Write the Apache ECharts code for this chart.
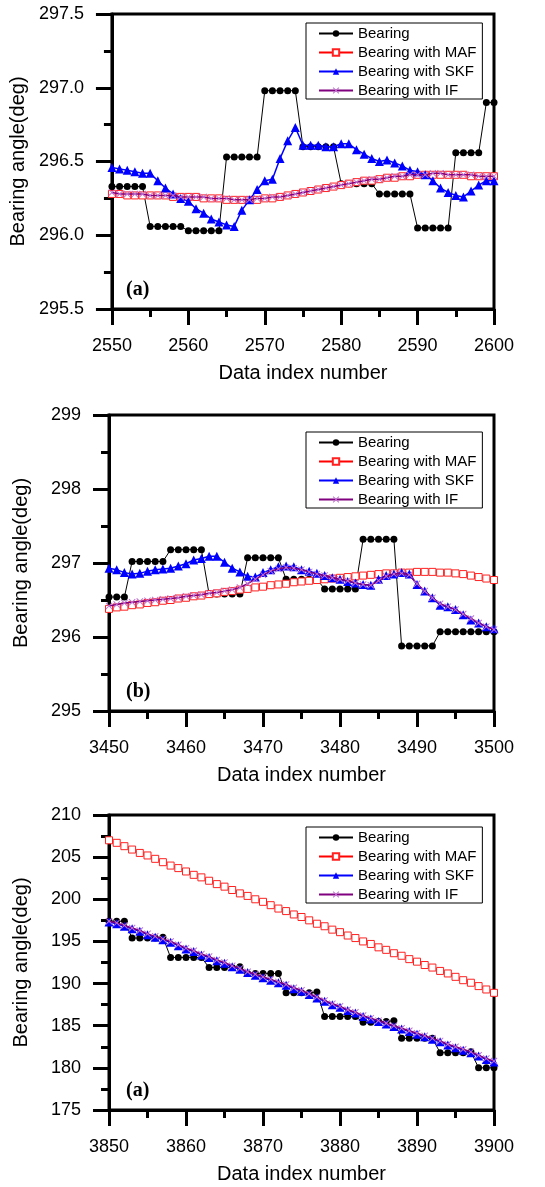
<!DOCTYPE html>
<html lang="en">
<head>
<meta charset="UTF-8">
<title>Bearing angle</title>
<script src="https://cdn.jsdelivr.net/npm/echarts@6/dist/echarts.min.js"></script>
<style>html,body{margin:0;padding:0;background:#fff;}</style>
</head>
<body>
<div id="chart" style="width:545px;height:1187px;"></div>
<script>
// panel (a) top: index 2550..2600
var startA = 2550;
var bearingA = [296.33, 296.33, 296.33, 296.33, 296.33, 296.06, 296.06, 296.06, 296.06, 296.06,
    296.03, 296.03, 296.03, 296.03, 296.03, 296.53, 296.53, 296.53, 296.53, 296.53,
    296.98, 296.98, 296.98, 296.98, 296.98, 296.60, 296.60, 296.60, 296.60, 296.60,
    296.35, 296.35, 296.35, 296.35, 296.35, 296.28, 296.28, 296.28, 296.28, 296.28,
    296.05, 296.05, 296.05, 296.05, 296.05, 296.56, 296.56, 296.56, 296.56, 296.90, 296.90];
var mafA = [296.28, 296.28, 296.27, 296.27, 296.27, 296.27, 296.27, 296.27, 296.26, 296.26,
    296.26, 296.26, 296.25, 296.25, 296.25, 296.24, 296.24, 296.24, 296.24, 296.24,
    296.25, 296.25, 296.26, 296.27, 296.28, 296.29, 296.30, 296.31, 296.32, 296.33,
    296.34, 296.35, 296.36, 296.37, 296.37, 296.38, 296.39, 296.39, 296.40, 296.40,
    296.41, 296.41, 296.41, 296.41, 296.41, 296.41, 296.41, 296.40, 296.40, 296.40, 296.40];
var skfA = [296.46, 296.45, 296.44, 296.43, 296.42, 296.42, 296.37, 296.32, 296.28, 296.25,
    296.23, 296.18, 296.15, 296.11, 296.09, 296.07, 296.06, 296.17, 296.24, 296.31,
    296.37, 296.38, 296.52, 296.64, 296.73, 296.61, 296.61, 296.61, 296.60, 296.60,
    296.62, 296.62, 296.58, 296.55, 296.52, 296.50, 296.51, 296.49, 296.47, 296.44,
    296.43, 296.41, 296.37, 296.32, 296.29, 296.27, 296.26, 296.30, 296.34, 296.37, 296.37];
var ifA = [296.29, 296.28, 296.28, 296.28, 296.28, 296.27, 296.27, 296.27, 296.27, 296.26,
    296.26, 296.26, 296.26, 296.25, 296.25, 296.25, 296.24, 296.24, 296.24, 296.25,
    296.25, 296.26, 296.26, 296.27, 296.28, 296.29, 296.30, 296.31, 296.32, 296.33,
    296.34, 296.35, 296.36, 296.37, 296.38, 296.38, 296.39, 296.40, 296.40, 296.41,
    296.41, 296.41, 296.42, 296.42, 296.41, 296.41, 296.41, 296.41, 296.40, 296.40, 296.40];

// panel (b): index 3450..3500
var startB = 3450;
var bearingB = [296.54, 296.54, 296.54, 297.02, 297.02, 297.02, 297.02, 297.02, 297.18, 297.18,
    297.18, 297.18, 297.18, 296.58, 296.58, 296.58, 296.58, 296.58, 297.07, 297.07,
    297.07, 297.07, 297.07, 296.78, 296.78, 296.78, 296.78, 296.78, 296.65, 296.65,
    296.65, 296.65, 296.65, 297.32, 297.32, 297.32, 297.32, 297.32, 295.88, 295.88,
    295.88, 295.88, 295.88, 296.07, 296.07, 296.07, 296.07, 296.07, 296.07, 296.07, 296.07];
var mafB = [296.38, 296.40, 296.41, 296.43, 296.44, 296.46, 296.47, 296.49, 296.50, 296.52,
    296.53, 296.55, 296.56, 296.58, 296.59, 296.61, 296.62, 296.64, 296.65, 296.67,
    296.68, 296.70, 296.71, 296.72, 296.74, 296.75, 296.76, 296.77, 296.78, 296.79,
    296.80, 296.81, 296.82, 296.83, 296.84, 296.85, 296.86, 296.86, 296.87, 296.87,
    296.88, 296.88, 296.88, 296.87, 296.87, 296.86, 296.85, 296.83, 296.81, 296.79, 296.77];
var skfB = [296.93, 296.91, 296.87, 296.85, 296.86, 296.89, 296.91, 296.92, 296.93, 296.96,
    296.99, 297.04, 297.06, 297.09, 297.09, 297.01, 296.93, 296.88, 296.82, 296.81,
    296.87, 296.91, 296.95, 296.96, 296.95, 296.91, 296.89, 296.86, 296.83, 296.80,
    296.78, 296.75, 296.73, 296.71, 296.70, 296.78, 296.83, 296.85, 296.87, 296.85,
    296.71, 296.62, 296.53, 296.43, 296.41, 296.37, 296.30, 296.23, 296.19, 296.14, 296.11];
var ifB = [296.42, 296.44, 296.46, 296.47, 296.48, 296.49, 296.50, 296.51, 296.52, 296.53,
    296.55, 296.56, 296.57, 296.59, 296.60, 296.62, 296.64, 296.67, 296.72, 296.78,
    296.84, 296.89, 296.92, 296.94, 296.93, 296.91, 296.88, 296.85, 296.83, 296.80,
    296.78, 296.76, 296.73, 296.71, 296.70, 296.76, 296.82, 296.85, 296.86, 296.84,
    296.72, 296.62, 296.53, 296.45, 296.41, 296.37, 296.31, 296.25, 296.19, 296.14, 296.10];

// panel (a) bottom: index 3850..3900
var startC = 3850;
var bearingC = [197.4, 197.4, 197.4, 195.4, 195.4, 195.4, 195.4, 195.5, 193.1, 193.1,
    193.1, 193.1, 193.1, 191.9, 191.9, 191.9, 191.9, 192.0, 191.2, 191.2,
    191.2, 191.2, 191.2, 188.9, 188.9, 188.9, 188.9, 189.0, 186.1, 186.1,
    186.1, 186.1, 186.1, 185.4, 185.4, 185.5, 185.5, 185.6, 183.5, 183.5,
    183.5, 183.5, 183.5, 181.8, 181.8, 181.8, 181.8, 181.9, 180.0, 180.0, 180.0];
var mafC = [207.0, 206.7, 206.3, 205.9, 205.5, 205.2, 204.8, 204.4, 204.0, 203.7,
    203.3, 202.9, 202.6, 202.2, 201.8, 201.5, 201.1, 200.7, 200.4, 200.0,
    199.7, 199.3, 198.9, 198.6, 198.2, 197.9, 197.5, 197.1, 196.8, 196.4,
    196.1, 195.7, 195.4, 195.0, 194.7, 194.3, 194.0, 193.6, 193.3, 192.9,
    192.6, 192.2, 191.9, 191.5, 191.2, 190.8, 190.4, 190.1, 189.7, 189.3, 188.9];
var skfC = [197.3, 197.1, 196.8, 196.5, 196.2, 195.8, 195.5, 195.2, 194.9, 194.5,
    194.1, 193.8, 193.4, 193.1, 192.7, 192.4, 192.0, 191.7, 191.3, 191.0,
    190.7, 190.4, 190.1, 189.8, 189.4, 189.1, 188.7, 188.3, 187.9, 187.5,
    187.2, 186.8, 186.5, 186.1, 185.8, 185.5, 185.2, 184.9, 184.6, 184.3,
    184.0, 183.7, 183.4, 183.1, 182.7, 182.4, 182.1, 181.8, 181.4, 181.0, 180.7];
var ifC = [197.4, 197.2, 196.9, 196.6, 196.3, 195.9, 195.6, 195.3, 195.0, 194.6,
    194.2, 193.9, 193.5, 193.2, 192.8, 192.5, 192.1, 191.8, 191.4, 191.1,
    190.8, 190.5, 190.2, 189.9, 189.5, 189.2, 188.8, 188.4, 188.0, 187.6,
    187.3, 186.9, 186.6, 186.2, 185.9, 185.6, 185.3, 185.0, 184.7, 184.4,
    184.1, 183.8, 183.5, 183.2, 182.8, 182.5, 182.2, 181.9, 181.5, 181.1, 180.8];

var names = ['Bearing', 'Bearing with MAF', 'Bearing with SKF', 'Bearing with IF'];
var panelTags = ['(a)', '(b)', '(a)'];

var panels = [
    {start: startA, data: [bearingA, mafA, skfA, ifA], ymin: 295.5, ymax: 297.5, yint: 0.5, dec: 1, top: 14, height: 295, legendTop: 23},
    {start: startB, data: [bearingB, mafB, skfB, ifB], ymin: 295, ymax: 299, yint: 1, dec: 0, top: 415, height: 296, legendTop: 432},
    {start: startC, data: [bearingC, mafC, skfC, ifC], ymin: 175, ymax: 210, yint: 5, dec: 0, top: 815, height: 295, legendTop: 827}
];

var xMark = 'path://M0,1L1,0L5,4L9,0L10,1L6,5L10,9L9,10L5,6L1,10L0,9L4,5Z';
var styles = [
    {symbol: 'circle', symbolSize: 7, lineStyle: {color: '#000', width: 1}, itemStyle: {color: '#000'}},
    {symbol: 'rect', symbolSize: 7, lineStyle: {color: '#ff0000', width: 1}, itemStyle: {color: '#fff', borderColor: '#ff2020', borderWidth: 1}},
    {symbol: 'triangle', symbolSize: 9, lineStyle: {color: '#0000ff', width: 1.5}, itemStyle: {color: '#0000ff'}},
    {symbol: xMark, symbolSize: 7, lineStyle: {color: '#800080', width: 1.5}, itemStyle: {color: '#c070d0'}}
];

var fontSans = '"Liberation Sans", Arial, sans-serif';
var grids = [], xAxes = [], yAxes = [], legends = [], titles = [], series = [];

panels.forEach(function (p, k) {
    grids.push({left: 109, width: 385, top: p.top, height: p.height, show: true, borderColor: '#000', borderWidth: 3});
    xAxes.push({
        type: 'value', gridIndex: k, min: p.start, max: p.start + 50, interval: 10,
        name: 'Data index number', nameLocation: 'middle', nameGap: 54,
        nameTextStyle: {fontFamily: fontSans, fontSize: 20, color: '#000'},
        axisLine: {lineStyle: {color: '#000', width: 3}},
        axisTick: {length: 16, lineStyle: {color: '#000', width: 3}},
        minorTick: {show: true, splitNumber: 2, length: 8, lineStyle: {color: '#000', width: 3}},
        axisLabel: {margin: 28, fontFamily: fontSans, fontSize: 18, color: '#000',
            formatter: function (v) { return String(v); }},
        splitLine: {show: false}
    });
    yAxes.push({
        type: 'value', gridIndex: k, min: p.ymin, max: p.ymax, interval: p.yint,
        name: 'Bearing angle(deg)', nameLocation: 'middle', nameGap: 78,
        nameTextStyle: {fontFamily: fontSans, fontSize: 20, color: '#000'},
        axisLine: {lineStyle: {color: '#000', width: 3}},
        axisTick: {length: 16, lineStyle: {color: '#000', width: 3}},
        minorTick: {show: true, splitNumber: 2, length: 8, lineStyle: {color: '#000', width: 3}},
        axisLabel: {margin: 28, fontFamily: fontSans, fontSize: 18, color: '#000',
            formatter: (function (d) { return function (v) { return v.toFixed(d); }; })(p.dec)},
        splitLine: {show: false}
    });
    legends.push({
        data: names, orient: 'vertical', left: 306, top: p.legendTop,
        itemWidth: 34, itemHeight: 8, itemGap: 4,
        padding: [3, 6, 1, 12], borderColor: '#000', borderWidth: 1, backgroundColor: '#fff',
        textStyle: {fontFamily: fontSans, fontSize: 15, color: '#000'}
    });
    titles.push({
        text: panelTags[k], left: 121, top: p.top + p.height - 34,
        textStyle: {fontFamily: '"Liberation Serif", "Times New Roman", serif', fontSize: 20, fontWeight: 'bold', color: '#000'}
    });
    p.data.forEach(function (vals, j) {
        series.push({
            name: names[j], type: 'line', xAxisIndex: k, yAxisIndex: k,
            data: vals.map(function (v, i) { return [p.start + i, v]; }),
            symbol: styles[j].symbol, symbolSize: styles[j].symbolSize,
            showAllSymbol: true, lineStyle: styles[j].lineStyle, itemStyle: styles[j].itemStyle,
            z: 2 + j
        });
    });
});

var chart = echarts.init(document.getElementById('chart'));
chart.setOption({
    animation: false,
    backgroundColor: '#fff',
    title: titles,
    legend: legends,
    grid: grids,
    xAxis: xAxes,
    yAxis: yAxes,
    series: series
});
</script>
</body>
</html>
